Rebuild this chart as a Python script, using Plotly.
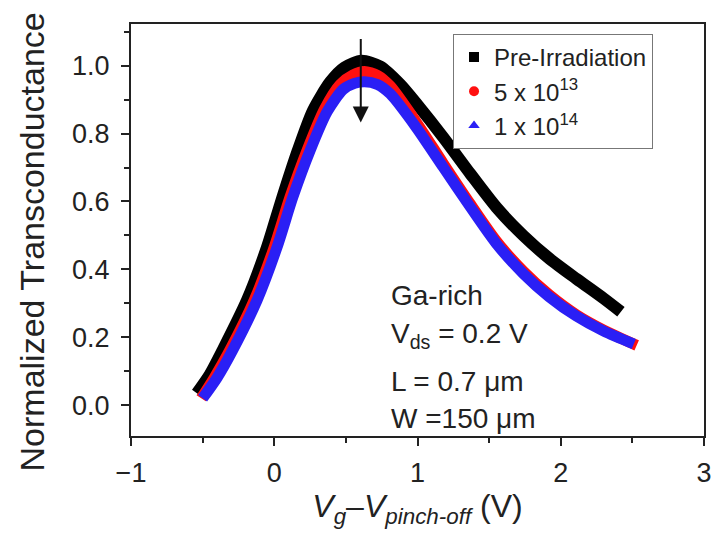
import plotly.graph_objects as go

# ---- data ----
pre_x = [-0.54, -0.45, -0.36, -0.19, -0.05, 0.05, 0.16, 0.27, 0.39, 0.49, 0.61, 0.74, 0.88, 1.00, 1.18, 1.37, 1.55, 1.74, 1.92, 2.11, 2.30, 2.42]
pre_y = [0.035, 0.09, 0.162, 0.309, 0.466, 0.603, 0.745, 0.868, 0.952, 0.995, 1.015, 0.998, 0.945, 0.885, 0.789, 0.681, 0.583, 0.499, 0.432, 0.372, 0.314, 0.275]

r13_x = [-0.51, -0.42, -0.31, -0.14, 0.0, 0.11, 0.23, 0.35, 0.46, 0.55, 0.63, 0.72, 0.81, 0.99, 1.18, 1.37, 1.55, 1.74, 1.92, 2.11, 2.30, 2.53]
r13_y = [0.02, 0.08, 0.162, 0.309, 0.466, 0.613, 0.752, 0.872, 0.945, 0.973, 0.983, 0.972, 0.94, 0.835, 0.712, 0.592, 0.484, 0.394, 0.325, 0.266, 0.221, 0.176]

r14_x = [-0.50, -0.40, -0.29, -0.12, 0.02, 0.13, 0.25, 0.37, 0.48, 0.56, 0.63, 0.72, 0.81, 0.99, 1.18, 1.37, 1.55, 1.74, 1.92, 2.11, 2.30, 2.51]
r14_y = [0.02, 0.08, 0.162, 0.309, 0.466, 0.613, 0.75, 0.865, 0.93, 0.948, 0.953, 0.945, 0.917, 0.819, 0.701, 0.583, 0.476, 0.387, 0.319, 0.262, 0.218, 0.18]

series_names = ["Pre-Irradiation", "5 x 10<sup>13</sup>", "1 x 10<sup>14</sup>"]
x_ticks = [-1, 0, 1, 2, 3]
y_ticks = [0.0, 0.2, 0.4, 0.6, 0.8, 1.0]
notes = ["Ga-rich", "V<sub>ds</sub> = 0.2 V", "L = 0.7 μm", "W =150 μm"]

FONT = "Liberation Sans, Arial, sans-serif"
colors = ["#000000", "#ff1010", "#2a1ff5"]
symbols = ["square", "circle", "triangle-up"]
widths = [12, 11, 11]

fig = go.Figure()
for (xs, ys), c, w in zip([(pre_x, pre_y), (r13_x, r13_y), (r14_x, r14_y)], colors, widths):
    fig.add_trace(go.Scatter(x=xs, y=ys, mode="lines", line=dict(color=c, width=w, shape="spline", smoothing=0.7),
                             showlegend=False, hoverinfo="skip"))
for name, c, s in zip(series_names, colors, symbols):
    fig.add_trace(go.Scatter(x=[None], y=[None], mode="markers", name=name,
                             marker=dict(color=c, symbol=s, size=10)))

# arrow
fig.add_annotation(x=0.604, y=0.833, ax=0.604, ay=1.083, xref="x", yref="y", axref="x", ayref="y",
                   showarrow=True, arrowhead=2, arrowsize=1.6, arrowwidth=2, arrowcolor="#111", text="")

note_y = [0.324, 0.205, 0.069, -0.038]
for t, yy in zip(notes, note_y):
    fig.add_annotation(x=0.80, y=yy, xref="x", yref="y", text=t, showarrow=False,
                       xanchor="left", yanchor="middle", font=dict(family=FONT, size=28, color="#222"))

# y-axis title placed as rotated text
fig.add_annotation(x=-0.1736, y=0.471, xref="paper", yref="paper", text="Normalized Transconductance",
                   textangle=-90, showarrow=False, xanchor="center", yanchor="middle",
                   font=dict(family=FONT, size=34, color="#222"))

axis_common = dict(showline=True, linecolor="#222", linewidth=2, mirror=True, ticks="outside",
                   ticklen=8, tickwidth=2, tickcolor="#222", showgrid=False, zeroline=False,
                   automargin=False, tickfont=dict(family=FONT, size=27, color="#222"))

fig.update_xaxes(range=[-1, 3], tickvals=x_ticks, ticktext=[("−1" if v < 0 else str(v)) for v in x_ticks],
                 minor=dict(dtick=0.5, tick0=0, ticks="outside", ticklen=5, tickwidth=2, tickcolor="#222"),
                 title=dict(text="<i>V</i><sub><i>g</i></sub>–<i>V</i><sub><i>pinch-off</i></sub> (V)",
                            font=dict(family=FONT, size=32, color="#222"), standoff=0),
                 ticklabelstandoff=4, **axis_common)
fig.update_yaxes(range=[-0.091, 1.123], tickvals=y_ticks, ticktext=[f"{v:.1f}" for v in y_ticks],
                 minor=dict(dtick=0.1, tick0=0, ticks="outside", ticklen=5, tickwidth=2, tickcolor="#222"),
                 ticklabelstandoff=6, **axis_common)

fig.update_layout(
    width=715, height=537, margin=dict(l=131, r=11, t=24, b=101),
    paper_bgcolor="white", plot_bgcolor="white",
    legend=dict(x=0.562, y=0.976, xanchor="left", yanchor="top", bgcolor="white",
                bordercolor="#777", borderwidth=1, font=dict(family=FONT, size=24, color="#222"),
                tracegroupgap=0, itemwidth=30, entrywidth=178, entrywidthmode="pixels"),
)

fig.write_html("out.html")
